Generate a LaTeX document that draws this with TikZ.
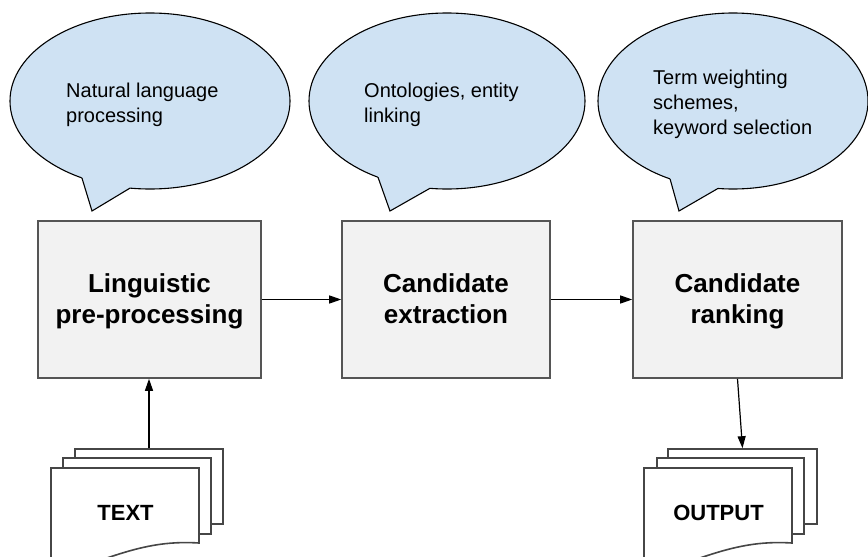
\documentclass[tikz,border=0pt]{standalone}
\usepackage{fontspec}
\setmainfont{Liberation Sans}
\usetikzlibrary{arrows.meta}
\definecolor{bubblefill}{RGB}{207,226,243}
\definecolor{boxfill}{RGB}{242,242,242}
\definecolor{boxedge}{RGB}{85,85,85}
\definecolor{sheetedge}{RGB}{70,70,70}
\newcommand\toprule{\rule{0pt}{24pt}}
\newcommand\botrule{\rule[-8pt]{0pt}{8pt}}
\begin{document}
\begin{tikzpicture}[x=1pt,y=-1pt,
  bubbleline/.style={draw=black,line width=1.1pt,fill=bubblefill},
  tailline/.style={draw=black,line width=1.1pt,line join=miter},
  bubbletext/.style={inner sep=0pt,anchor=north west,align=left,font=\fontsize{20}{25}\selectfont},
  stage/.style={draw=boxedge,line width=1.6pt,fill=boxfill,minimum height=157pt,align=center,inner sep=0pt,font=\fontsize{26}{31}\selectfont\bfseries},
  sheet/.style={draw=sheetedge,line width=1.6pt,fill=white,inner sep=0pt},
  doctext/.style={inner sep=0pt,font=\fontsize{22}{26}\selectfont\bfseries},
  conn/.style={draw=black,line width=1.2pt,-{Triangle[length=12pt,width=8pt]}}]
\useasboundingbox (0,0) rectangle (868,557);
\clip (0,0) rectangle (868,557);

% bubble 1
\coordinate (e1) at (150,101);
\coordinate (e1l) at ([shift={(240.9:140pt and 88pt)}]e1);
\coordinate (e1r) at ([shift={(261.8:140pt and 88pt)}]e1);
\coordinate (e1tip) at (92,211);
\draw[bubbleline] (e1) ellipse[x radius=140pt, y radius=88pt];
\fill[bubblefill] (e1l) -- (e1tip) -- (e1r) -- ([yshift=12pt]e1r) -- ([yshift=12pt]e1l) -- cycle;
\draw[tailline] (e1l) -- (e1tip) -- (e1r);
\node[bubbletext] (t1) at (66,82.4) {Natural language\\processing};

% bubble 2
\coordinate (e2) at (447,101);
\coordinate (e2l) at ([shift={(240:138pt and 88pt)}]e2);
\coordinate (e2r) at ([shift={(262.9:138pt and 88pt)}]e2);
\coordinate (e2tip) at (390,211);
\draw[bubbleline] (e2) ellipse[x radius=138pt, y radius=88pt];
\fill[bubblefill] (e2l) -- (e2tip) -- (e2r) -- ([yshift=12pt]e2r) -- ([yshift=12pt]e2l) -- cycle;
\draw[tailline] (e2l) -- (e2tip) -- (e2r);
\node[bubbletext] (t2) at (364,82.7) {Ontologies, entity\\linking};

% bubble 3
\coordinate (e3) at (733,101);
\coordinate (e3l) at ([shift={(242.2:135pt and 88pt)}]e3);
\coordinate (e3r) at ([shift={(263.6:135pt and 88pt)}]e3);
\coordinate (e3tip) at (679,211);
\draw[bubbleline] (e3) ellipse[x radius=135pt, y radius=88pt];
\fill[bubblefill] (e3l) -- (e3tip) -- (e3r) -- ([yshift=12pt]e3r) -- ([yshift=12pt]e3l) -- cycle;
\draw[tailline] (e3l) -- (e3tip) -- (e3r);
\node[bubbletext] (t3) at (653,69.7) {Term weighting\\schemes,\\keyword selection};

% stages
\node[stage,minimum width=223pt] (s1) at (149.5,299.5) {\toprule Linguistic\\pre-processing\botrule};
\node[stage,minimum width=208pt] (s2) at (446,299.5) {\toprule Candidate\\extraction\botrule};
\node[stage,minimum width=209pt] (s3) at (737.5,299.5) {\toprule Candidate\\ranking\botrule};

% input documents
\node[sheet,minimum width=148pt,minimum height=75pt] (d1c) at (149,486.5) {};
\node[sheet,minimum width=148pt,minimum height=76pt] (d1b) at (137,496) {};
\draw[sheetedge,line width=1.6pt,fill=white] (51,468) -- (199,468) -- (199,543)
  .. controls (167,541) and (142,546) .. (107,558)
  .. controls (87,565) and (67,567) .. (51,566) -- cycle;
\node[doctext] (d1) at (125.5,513) {TEXT};

% output documents
\node[sheet,minimum width=149pt,minimum height=75pt] (d2c) at (742.5,486.5) {};
\node[sheet,minimum width=147pt,minimum height=76pt] (d2b) at (730.5,496) {};
\draw[sheetedge,line width=1.6pt,fill=white] (644,468) -- (792,468) -- (792,543)
  .. controls (760,541) and (735,546) .. (700,558)
  .. controls (680,565) and (660,567) .. (644,566) -- cycle;
\node[doctext] (d2) at (718.5,513) {OUTPUT};

% connectors
\draw[conn] (s1.east) -- (s2.west);
\draw[conn] (s2.east) -- (s3.west);
\draw[conn] (d1c.north) -- (d1c.north |- s1.south);
\draw[conn] (s3.south) -- (d2c.north);
\end{tikzpicture}
\end{document}
